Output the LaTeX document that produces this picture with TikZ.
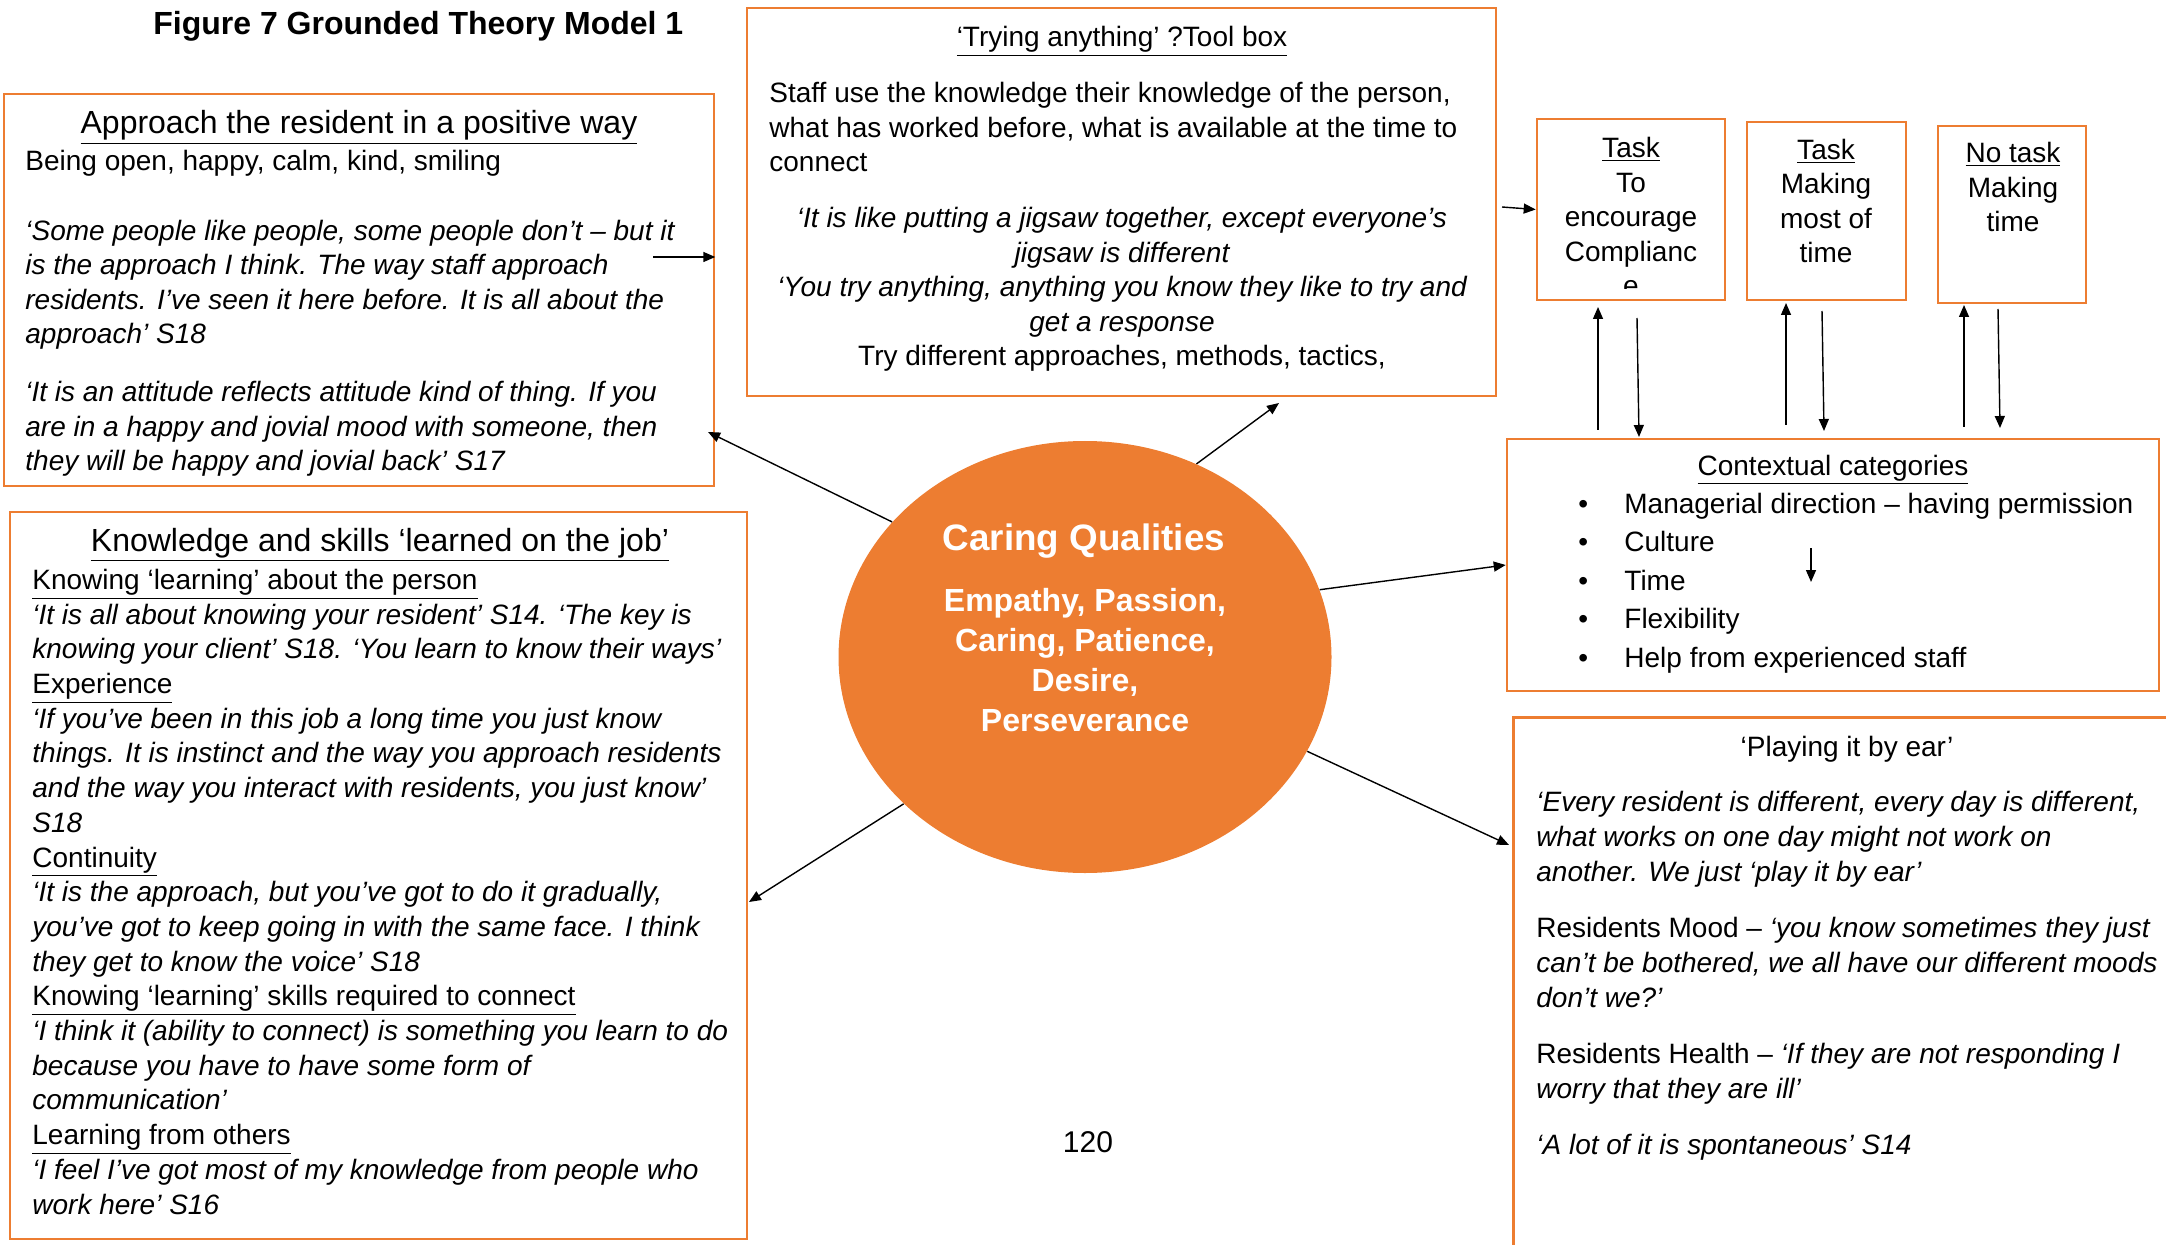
\documentclass[tikz,border=0pt]{standalone}
\usepackage{fontspec}
\setmainfont{Liberation Sans}
\usetikzlibrary{arrows.meta,shapes.geometric}
\definecolor{accent}{HTML}{ED7D31}
\begin{document}
\begin{tikzpicture}[x=0.5pt,y=-0.5pt,
  box/.style={draw=accent,line width=1.3pt,rectangle,inner sep=0pt},
  body/.style={font=\fontsize{14}{17.3}\selectfont,inner sep=0pt},
  bodyit/.style={font=\fontsize{14}{17.3}\selectfont\itshape,inner sep=0pt},
  head/.style={font=\fontsize{16}{19}\selectfont,inner sep=0pt},
  arr/.style={-{Triangle[length=6pt,width=5pt]},line width=0.7pt,black}]
\useasboundingbox (0,0) rectangle (2166,1245);
% multi-line nodes are anchored at the baseline of their last line

% title
\node[anchor=base west,inner sep=0pt,font=\fontsize{16}{19}\selectfont\bfseries] (title) at (153,35) {Figure 7 Grounded Theory Model 1};

% boxes
\node[box,minimum width=355pt,minimum height=196pt] (A) at (359,290) {};
\node[box,minimum width=374.5pt,minimum height=194pt] (B) at (1121.5,202) {};
\node[box,minimum width=94pt,minimum height=90.5pt] (T1) at (1631,209.5) {};
\node[box,minimum width=79.5pt,minimum height=89pt] (T2) at (1826.5,211) {};
\node[box,minimum width=74pt,minimum height=88.5pt] (T3) at (2012,214.5) {};
\node[box,minimum width=326pt,minimum height=126pt] (ctx) at (1833,565) {};
\node[box,minimum width=368.5pt,minimum height=363.5pt] (D) at (378.5,875.5) {};
\node[inner sep=0pt,minimum width=343pt,minimum height=291pt] (E) at (1857,1009) {};
\draw[accent,line width=1.3pt] (E.north east) -- (E.north west) -- (E.south west);

% central ellipse
\node[ellipse,fill=accent,minimum width=246.5pt,minimum height=216pt,inner sep=0pt] (cq) at (1085,657) {};
\node[anchor=base,inner sep=0pt,text=white,font=\fontsize{18.4}{22}\selectfont\bfseries] (cqt) at (1084,550) {Caring Qualities};
\node[anchor=base,inner sep=0pt,text=white,align=center,font=\fontsize{16}{20}\selectfont\bfseries] (cqb) at (1085,731) {Empathy, Passion,\\Caring, Patience,\\Desire,\\Perseverance};

% box A text
\node[head,anchor=base] (Ah) at (359,134) {\underline{Approach the resident in a positive way}};
\node[body,anchor=base west] (A1) at (25,171) {Being open, happy, calm, kind, smiling};
\node[bodyit,anchor=base west,align=left] (A2) at (25,344) {‘Some people like people, some people don’t – but it\\is the approach I think. The way staff approach\\residents. I’ve seen it here before. It is all about the\\approach’ S18};
\node[bodyit,anchor=base west,align=left] (A3) at (25,471) {‘It is an attitude reflects attitude kind of thing. If you\\are in a happy and jovial mood with someone, then\\they will be happy and jovial back’ S17};

% box B text
\node[body,anchor=base] (Bh) at (1122,47) {\underline{‘Trying anything’ ?Tool box}};
\node[body,anchor=base west,align=left] (B1) at (769,172) {Staff use the knowledge their knowledge of the person,\\what has worked before, what is available at the time to\\connect};
\node[body,anchor=base,align=center] (B2) at (1122,366) {\itshape ‘It is like putting a jigsaw together, except everyone’s\\\itshape jigsaw is different\\\itshape ‘You try anything, anything you know they like to try and\\\itshape get a response\\Try different approaches, methods, tactics,};

% task boxes text (the last line of the first box runs past its text area)
\begin{scope}
\clip (T1.north west) rectangle (T1.east |- 0,289);
\node[body,anchor=base,align=center] (T1t) at (1631,296) {\underline{Task}\\To\\encourage\\Complianc\\e};
\end{scope}
\node[body,anchor=base,align=center] (T2t) at (1826,263) {\underline{Task}\\Making\\most of\\time};
\node[body,anchor=base,align=center] (T3t) at (2013,232) {\underline{No task}\\Making\\time};

% contextual categories
\node[body,anchor=base] (Ch) at (1833,475) {\underline{Contextual categories}};
\node[anchor=base west,align=left,inner sep=0pt,font=\fontsize{14}{19.25}\selectfont] (Cl) at (1578,667) {\makebox[23pt][l]{•}Managerial direction – having permission\\\makebox[23pt][l]{•}Culture\\\makebox[23pt][l]{•}Time\\\makebox[23pt][l]{•}Flexibility\\\makebox[23pt][l]{•}Help from experienced staff};

% box D text
\node[head,anchor=base] (Dh) at (380,551) {\underline{Knowledge and skills ‘learned on the job’}};
\node[anchor=base west,align=left,inner sep=0pt,font=\fontsize{14}{17.35}\selectfont] (Dl) at (32,1214) {\underline{Knowing ‘learning’ about the person}\\
\textit{‘It is all about knowing your resident’ S14. ‘The key is}\\
\textit{knowing your client’ S18. ‘You learn to know their ways’}\\
\underline{Experience}\\
\textit{‘If you’ve been in this job a long time you just know}\\
\textit{things. It is instinct and the way you approach residents}\\
\textit{and the way you interact with residents, you just know’}\\
\textit{S18}\\
\underline{Continuity}\\
\textit{‘It is the approach, but you’ve got to do it gradually,}\\
\textit{you’ve got to keep going in with the same face. I think}\\
\textit{they get to know the voice’ S18}\\
\underline{Knowing ‘learning’ skills required to connect}\\
\textit{‘I think it (ability to connect) is something you learn to do}\\
\textit{because you have to have some form of}\\
\textit{communication’}\\
\underline{Learning from others}\\
\textit{‘I feel I’ve got most of my knowledge from people who}\\
\textit{work here’ S16}};

% box E text
\node[body,anchor=base] (Eh) at (1847,756) {‘Playing it by ear’};
\node[anchor=base west,align=left,inner sep=0pt,font=\fontsize{14}{17.5}\selectfont\itshape] (E1) at (1536,881) {‘Every resident is different, every day is different,\\what works on one day might not work on\\another. We just ‘play it by ear’};
\node[anchor=base west,align=left,inner sep=0pt,font=\fontsize{14}{17.5}\selectfont] (E2) at (1536,1007) {Residents Mood – \textit{‘you know sometimes they just}\\\textit{can’t be bothered, we all have our different moods}\\\textit{don’t we?’}};
\node[anchor=base west,align=left,inner sep=0pt,font=\fontsize{14}{17.5}\selectfont] (E3) at (1536,1098) {Residents Health – \textit{‘If they are not responding I}\\\textit{worry that they are ill’}};
\node[bodyit,anchor=base west] (E4) at (1536,1154) {‘A lot of it is spontaneous’ S14};

% page number
\node[anchor=base,inner sep=0pt,font=\fontsize{15}{18}\selectfont] (pg) at (1088,1152) {120};

% connectors from the central ellipse
\coordinate (tA) at (708,432);
\coordinate (tB) at (1279,403);
\coordinate (tD) at (749,902);
\coordinate (tE) at (1509,845);
\draw[arr] (cq.145) -- (tA);
\draw[arr] (cq.60) -- (tB);
\draw[arr] (cq.16) -- (ctx.west);
\draw[arr] (cq.-23) -- (tE);
\draw[arr] (cq.219) -- (tD);

% short arrows
\coordinate (aS) at (653,257);
\draw[arr] (aS) -- (A.east |- aS);
\coordinate (bS) at (1502,207);
\draw[arr] (bS) -- (T1.west);
\coordinate (cS) at (1811,548);
\coordinate (cE) at (1811,582);
\draw[arr] (cS) -- (cE);

% links between task boxes and contextual categories
\coordinate (u1s) at (1598,430); \coordinate (u1e) at (1598,307);
\coordinate (d1s) at (1637,318); \coordinate (d1e) at (1639,437);
\coordinate (u2s) at (1786,425); \coordinate (u2e) at (1786,303);
\coordinate (d2s) at (1822,311); \coordinate (d2e) at (1824,431);
\coordinate (u3s) at (1964,427); \coordinate (u3e) at (1964,305);
\coordinate (d3s) at (1998,309); \coordinate (d3e) at (2000,428);
\draw[arr] (u1s) -- (u1e);
\draw[arr] (d1s) -- (d1e);
\draw[arr] (u2s) -- (u2e);
\draw[arr] (d2s) -- (d2e);
\draw[arr] (u3s) -- (u3e);
\draw[arr] (d3s) -- (d3e);
\end{tikzpicture}
\end{document}
